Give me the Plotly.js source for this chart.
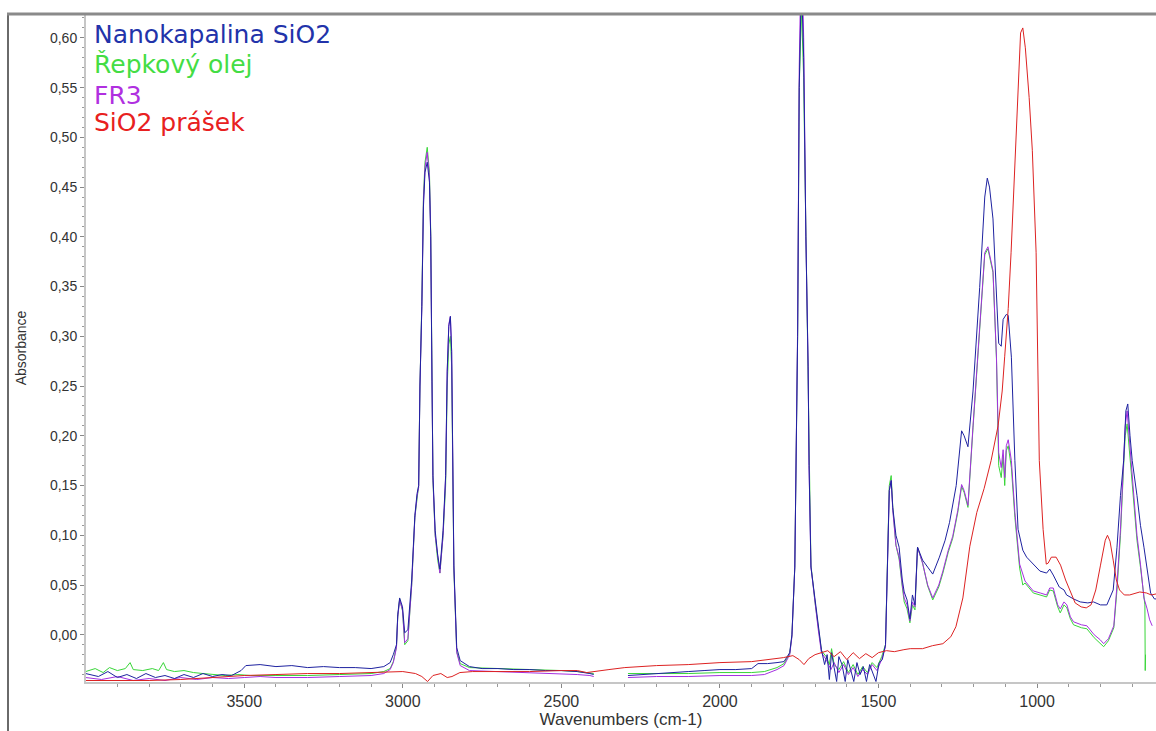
<!DOCTYPE html>
<html>
<head>
<meta charset="utf-8">
<script src="https://cdn.plot.ly/plotly-3.0.1.min.js"></script>
<style>
html,body{margin:0;padding:0;background:#fff;}
#chart{width:1156px;height:731px;}
</style>
</head>
<body>
<div id="chart"></div>
<script>
// ---- Data (wavenumber cm-1, absorbance) ----
const seriesNames = ["Nanokapalina SiO2", "Řepkový olej", "FR3", "SiO2 prášek"];
const seriesColors = ["#1e22a0", "#38d638", "#a52fe0", "#dd2222"];
const labelColors  = ["#2233aa", "#44dd44", "#b030e0", "#e82020"];

const nanoWn = [4000,3960,3930,3900,3870,3840,3810,3780,3750,3720,3690,3660,3630,3600,3570,3540,3510,3495,3450,3400,3350,3300,3250,3200,3150,3100,3060,3040,3030,3020,3016,3010,3001,2994,2984,2972,2962,2955,2950,2946,2940,2935,2930,2923,2916,2912,2908,2905,2898,2890,2883,2873,2865,2860,2855,2850,2846,2843,2839,2830,2819,2790,2750,2700,2650,2600,2550,2500,2450,2410,2398,2395,2290,2250,2200,2150,2100,2050,2000,1950,1900,1880,1850,1820,1798,1780,1773,1764,1755,1750,1743,1736,1733,1729,1722,1719,1713,1700,1690,1680,1670,1662,1655,1648,1640,1632,1625,1615,1605,1597,1588,1578,1568,1558,1548,1538,1528,1518,1508,1498,1488,1478,1472,1466,1460,1455,1445,1435,1425,1419,1410,1401,1393,1385,1377,1370,1361,1345,1329,1308,1290,1276,1255,1238,1230,1218,1202,1181,1165,1157,1150,1139,1128,1121,1113,1107,1097,1091,1081,1070,1060,1045,1033,1010,991,970,960,949,930,915,907,885,864,840,822,800,780,760,748,737,727,720,714,707,700,685,674,663,650,642,630,625];
const nanoAbs = [-0.039,-0.042,-0.037,-0.043,-0.040,-0.044,-0.039,-0.043,-0.041,-0.044,-0.040,-0.043,-0.039,-0.042,-0.040,-0.041,-0.036,-0.031,-0.030,-0.032,-0.031,-0.033,-0.032,-0.033,-0.033,-0.034,-0.032,-0.028,-0.020,-0.010,0.020,0.037,0.028,0.002,0.005,0.055,0.120,0.142,0.150,0.250,0.330,0.430,0.465,0.475,0.455,0.400,0.255,0.160,0.105,0.080,0.066,0.105,0.160,0.265,0.310,0.320,0.285,0.195,0.070,-0.013,-0.026,-0.032,-0.034,-0.034,-0.035,-0.035,-0.036,-0.036,-0.037,-0.039,-0.040,null,-0.041,-0.040,-0.039,-0.038,-0.037,-0.036,-0.035,-0.035,-0.034,-0.029,-0.029,-0.028,-0.027,-0.018,0.000,0.068,0.300,0.550,0.660,0.580,0.500,0.400,0.270,0.170,0.068,0.035,0.010,-0.015,-0.030,-0.020,-0.045,-0.018,-0.033,-0.047,-0.022,-0.030,-0.047,-0.025,-0.035,-0.047,-0.028,-0.040,-0.032,-0.047,-0.030,-0.038,-0.047,-0.028,-0.025,-0.010,0.060,0.145,0.155,0.128,0.100,0.088,0.055,0.043,0.035,0.016,0.040,0.030,0.088,0.082,0.075,0.068,0.061,0.078,0.095,0.113,0.150,0.205,0.200,0.189,0.245,0.349,0.440,0.459,0.450,0.418,0.349,0.293,0.290,0.317,0.322,0.321,0.279,0.175,0.106,0.085,0.078,0.070,0.064,0.062,0.066,0.060,0.048,0.045,0.040,0.036,0.033,0.032,0.033,0.030,0.030,0.045,0.088,0.140,0.175,0.225,0.232,0.200,0.175,0.140,0.110,0.088,0.060,0.042,0.036,0.036];

const oilWn = [4000,3970,3945,3925,3900,3875,3860,3850,3820,3790,3770,3755,3745,3720,3690,3660,3630,3600,3560,3520,3480,3400,3300,3200,3100,3060,3040,3030,3020,3016,3010,3001,2994,2984,2972,2962,2955,2950,2946,2940,2935,2930,2923,2916,2912,2908,2905,2898,2890,2883,2873,2865,2860,2855,2850,2846,2843,2839,2830,2819,2790,2700,2650,2600,2500,2450,2410,2398,2395,2290,2200,2100,2000,1900,1860,1820,1798,1780,1773,1764,1755,1750,1743,1736,1733,1729,1722,1719,1713,1700,1690,1680,1665,1655,1648,1640,1625,1610,1595,1580,1565,1550,1535,1520,1505,1490,1478,1472,1466,1460,1455,1445,1435,1425,1419,1410,1401,1393,1385,1377,1370,1361,1345,1329,1310,1297,1280,1266,1250,1238,1230,1218,1202,1181,1165,1155,1148,1139,1128,1121,1113,1107,1102,1097,1091,1081,1070,1055,1045,1038,1012,990,970,960,949,935,927,915,906,895,885,860,843,820,801,790,775,758,748,737,727,722,716,710,700,695,685,674,663,660,659,658];
const oilAbs = [-0.037,-0.034,-0.038,-0.033,-0.036,-0.034,-0.028,-0.035,-0.036,-0.034,-0.036,-0.028,-0.035,-0.037,-0.036,-0.038,-0.039,-0.040,-0.041,-0.040,-0.041,-0.041,-0.041,-0.040,-0.039,-0.037,-0.034,-0.027,-0.012,0.018,0.036,0.024,-0.010,-0.006,0.050,0.118,0.140,0.150,0.250,0.335,0.440,0.475,0.490,0.465,0.405,0.255,0.155,0.100,0.075,0.062,0.100,0.150,0.250,0.292,0.300,0.270,0.185,0.065,-0.017,-0.029,-0.033,-0.034,-0.034,-0.035,-0.036,-0.037,-0.038,-0.039,null,-0.039,-0.039,-0.039,-0.038,-0.038,-0.037,-0.033,-0.029,-0.019,-0.001,0.068,0.300,0.550,0.630,0.560,0.490,0.400,0.270,0.170,0.070,0.032,0.006,-0.016,-0.022,-0.030,-0.014,-0.030,-0.035,-0.027,-0.038,-0.030,-0.040,-0.032,-0.038,-0.028,-0.033,-0.022,-0.010,0.060,0.150,0.160,0.128,0.090,0.076,0.048,0.033,0.026,0.012,0.030,0.025,0.088,0.080,0.072,0.049,0.035,0.048,0.062,0.083,0.097,0.123,0.149,0.143,0.128,0.208,0.312,0.382,0.388,0.378,0.364,0.277,0.170,0.158,0.180,0.150,0.185,0.190,0.168,0.118,0.067,0.050,0.052,0.042,0.040,0.038,0.045,0.044,0.028,0.022,0.030,0.027,0.016,0.010,0.007,0.006,-0.003,-0.009,-0.012,-0.006,0.007,0.045,0.100,0.170,0.200,0.212,0.190,0.150,0.130,0.095,0.068,0.037,0.030,-0.036,-0.020];

const fr3Wn = [4000,3950,3900,3850,3800,3750,3700,3650,3600,3550,3500,3450,3400,3300,3200,3100,3060,3040,3030,3020,3016,3010,3001,2994,2984,2972,2962,2955,2950,2946,2940,2935,2930,2923,2916,2912,2908,2905,2898,2890,2883,2873,2865,2860,2855,2850,2846,2843,2839,2830,2819,2790,2700,2600,2500,2450,2410,2398,2395,2290,2200,2100,2000,1900,1860,1820,1798,1780,1773,1764,1755,1750,1743,1736,1733,1729,1722,1719,1713,1700,1690,1680,1665,1650,1640,1625,1610,1595,1580,1565,1550,1535,1520,1505,1490,1478,1472,1466,1460,1455,1445,1435,1425,1419,1410,1401,1393,1385,1377,1370,1361,1345,1329,1310,1297,1280,1266,1250,1238,1230,1218,1202,1181,1165,1155,1148,1139,1128,1121,1113,1107,1102,1097,1091,1081,1070,1055,1038,1012,990,970,960,949,935,927,915,906,895,885,860,843,820,801,790,775,758,748,737,727,722,716,710,700,695,685,674,663,653,645,637];
const fr3Abs = [-0.043,-0.045,-0.042,-0.046,-0.044,-0.046,-0.043,-0.045,-0.043,-0.044,-0.043,-0.042,-0.043,-0.043,-0.042,-0.041,-0.039,-0.035,-0.028,-0.013,0.018,0.035,0.025,-0.008,-0.004,0.050,0.118,0.140,0.148,0.250,0.330,0.435,0.470,0.485,0.460,0.400,0.255,0.158,0.100,0.077,0.062,0.100,0.158,0.265,0.312,0.320,0.285,0.192,0.068,-0.018,-0.031,-0.036,-0.037,-0.038,-0.039,-0.040,-0.041,-0.042,null,-0.043,-0.042,-0.042,-0.041,-0.041,-0.040,-0.035,-0.031,-0.020,-0.002,0.068,0.310,0.570,0.700,0.600,0.500,0.400,0.270,0.170,0.068,0.030,0.005,-0.018,-0.025,-0.035,-0.028,-0.038,-0.030,-0.040,-0.033,-0.042,-0.035,-0.040,-0.030,-0.036,-0.025,-0.012,0.060,0.145,0.155,0.125,0.090,0.078,0.050,0.037,0.030,0.014,0.033,0.028,0.088,0.080,0.072,0.050,0.037,0.050,0.064,0.085,0.099,0.125,0.151,0.145,0.130,0.210,0.314,0.384,0.390,0.380,0.366,0.279,0.183,0.168,0.186,0.158,0.190,0.196,0.175,0.123,0.071,0.054,0.044,0.042,0.040,0.047,0.047,0.030,0.026,0.033,0.030,0.018,0.013,0.010,0.009,0.000,-0.005,-0.009,-0.004,0.009,0.050,0.106,0.180,0.210,0.225,0.200,0.160,0.140,0.100,0.071,0.037,0.026,0.015,0.009];

const sioWn = [4000,3900,3800,3700,3650,3600,3550,3500,3400,3300,3200,3100,3050,3000,2960,2940,2922,2905,2880,2860,2845,2820,2780,2700,2600,2500,2450,2420,2390,2350,2300,2250,2200,2100,2000,1900,1850,1800,1770,1750,1735,1720,1700,1680,1660,1640,1620,1600,1580,1560,1540,1520,1500,1475,1450,1420,1400,1361,1330,1297,1272,1256,1234,1212,1190,1167,1145,1123,1110,1102,1091,1082,1069,1060,1052,1045,1037,1025,1015,1003,998,993,981,971,965,955,940,926,910,893,880,861,845,830,815,800,785,778,770,760,750,740,725,708,690,676,655,640,625];
const sioAbs = [-0.046,-0.046,-0.046,-0.045,-0.044,-0.043,-0.042,-0.041,-0.040,-0.039,-0.039,-0.038,-0.037,-0.037,-0.039,-0.042,-0.047,-0.041,-0.039,-0.043,-0.042,-0.038,-0.037,-0.037,-0.037,-0.036,-0.036,-0.038,-0.037,-0.035,-0.033,-0.032,-0.031,-0.030,-0.028,-0.027,-0.025,-0.023,-0.021,-0.025,-0.030,-0.024,-0.020,-0.018,-0.016,-0.022,-0.017,-0.025,-0.018,-0.024,-0.019,-0.023,-0.018,-0.016,-0.017,-0.015,-0.014,-0.014,-0.011,-0.009,-0.002,0.008,0.037,0.089,0.123,0.147,0.175,0.210,0.245,0.280,0.328,0.384,0.480,0.560,0.605,0.610,0.590,0.540,0.487,0.384,0.280,0.175,0.106,0.071,0.072,0.078,0.078,0.070,0.055,0.042,0.032,0.028,0.027,0.030,0.045,0.070,0.095,0.100,0.094,0.075,0.055,0.045,0.040,0.040,0.042,0.043,0.042,0.040,0.041];

const xTitle = "Wavenumbers (cm-1)";
const yTitle = "Absorbance";

// ---- Build traces ----
const wnArrays = [nanoWn, oilWn, fr3Wn, sioWn];
const absArrays = [nanoAbs, oilAbs, fr3Abs, sioAbs];
const drawOrder = [1, 2, 0, 3];
const traces = drawOrder.map(i => ({
  type: "scatter",
  mode: "lines",
  name: seriesNames[i],
  x: wnArrays[i],
  y: absArrays[i],
  connectgaps: false,
  line: {color: seriesColors[i], width: 1},
  hoverinfo: "skip"
}));

// ---- Layout ----
const W = 1156, H = 731;
const mL = 86, mR = 0, mT = 14, mB = 49;
const plotW = W - mL - mR, plotH = H - mT - mB;
const px2x = p => (p - mL) / plotW;
const px2y = p => (H - mB - p) / plotH;

const labelY = [34, 65, 95, 122];
const annotations = seriesNames.map((n, i) => ({
  text: n, xref: "paper", yref: "paper",
  x: px2x(92), y: px2y(labelY[i]),
  xanchor: "left", yanchor: "middle", showarrow: false,
  font: {family: "DejaVu Sans, Verdana, sans-serif", size: 25, color: labelColors[i]}
}));

const layout = {
  width: W, height: H,
  margin: {l: mL, r: mR, t: mT, b: mB, pad: 0},
  paper_bgcolor: "#ffffff",
  plot_bgcolor: "#ffffff",
  separators: ", ",
  showlegend: false,
  font: {family: "Liberation Sans, Arial, sans-serif", color: "#333"},
  xaxis: {
    range: [3999, 625],
    autorange: false,
    tick0: 0, dtick: 500,
    ticks: "outside", ticklen: 4, tickcolor: "#888", tickwidth: 1,
    showline: true, linecolor: "#c6c6c6", linewidth: 2,
    showgrid: false, zeroline: false,
    tickfont: {family: "Liberation Sans, Arial, sans-serif", size: 16, color: "#333"},
    minor: {tick0: 0, dtick: 100, ticks: "outside", ticklen: 3, tickcolor: "#999", showgrid: false},
    title: {text: xTitle, font: {family: "Liberation Sans, Arial, sans-serif", size: 17, color: "#333"}, standoff: 4},
    automargin: false
  },
  yaxis: {
    range: [-0.0475, 0.624],
    autorange: false,
    tick0: 0, dtick: 0.05, tickformat: ".2f",
    ticks: "outside", ticklen: 4, tickcolor: "#888", tickwidth: 1,
    showline: true, linecolor: "#c6c6c6", linewidth: 2,
    showgrid: false, zeroline: false,
    tickfont: {family: "Liberation Sans, Arial, sans-serif", size: 14, color: "#333"},
    minor: {tick0: 0, dtick: 0.01, ticks: "outside", ticklen: 2, tickcolor: "#999", showgrid: false},
    title: {text: yTitle, font: {family: "Liberation Sans, Arial, sans-serif", size: 14, color: "#333"}, standoff: 20},
    automargin: false
  },
  shapes: [
    {type: "line", xref: "paper", yref: "paper", x0: px2x(8), x1: px2x(8), y0: px2y(731), y1: px2y(13), line: {color: "#6a6a6a", width: 2}, layer: "above"},
    {type: "line", xref: "paper", yref: "paper", x0: px2x(7), x1: px2x(1160), y0: px2y(14), y1: px2y(14), line: {color: "#8a8a8a", width: 3}, layer: "above"}
  ],
  annotations: annotations
};

Plotly.newPlot("chart", traces, layout, {displayModeBar: false, staticPlot: true});
</script>
</body>
</html>
